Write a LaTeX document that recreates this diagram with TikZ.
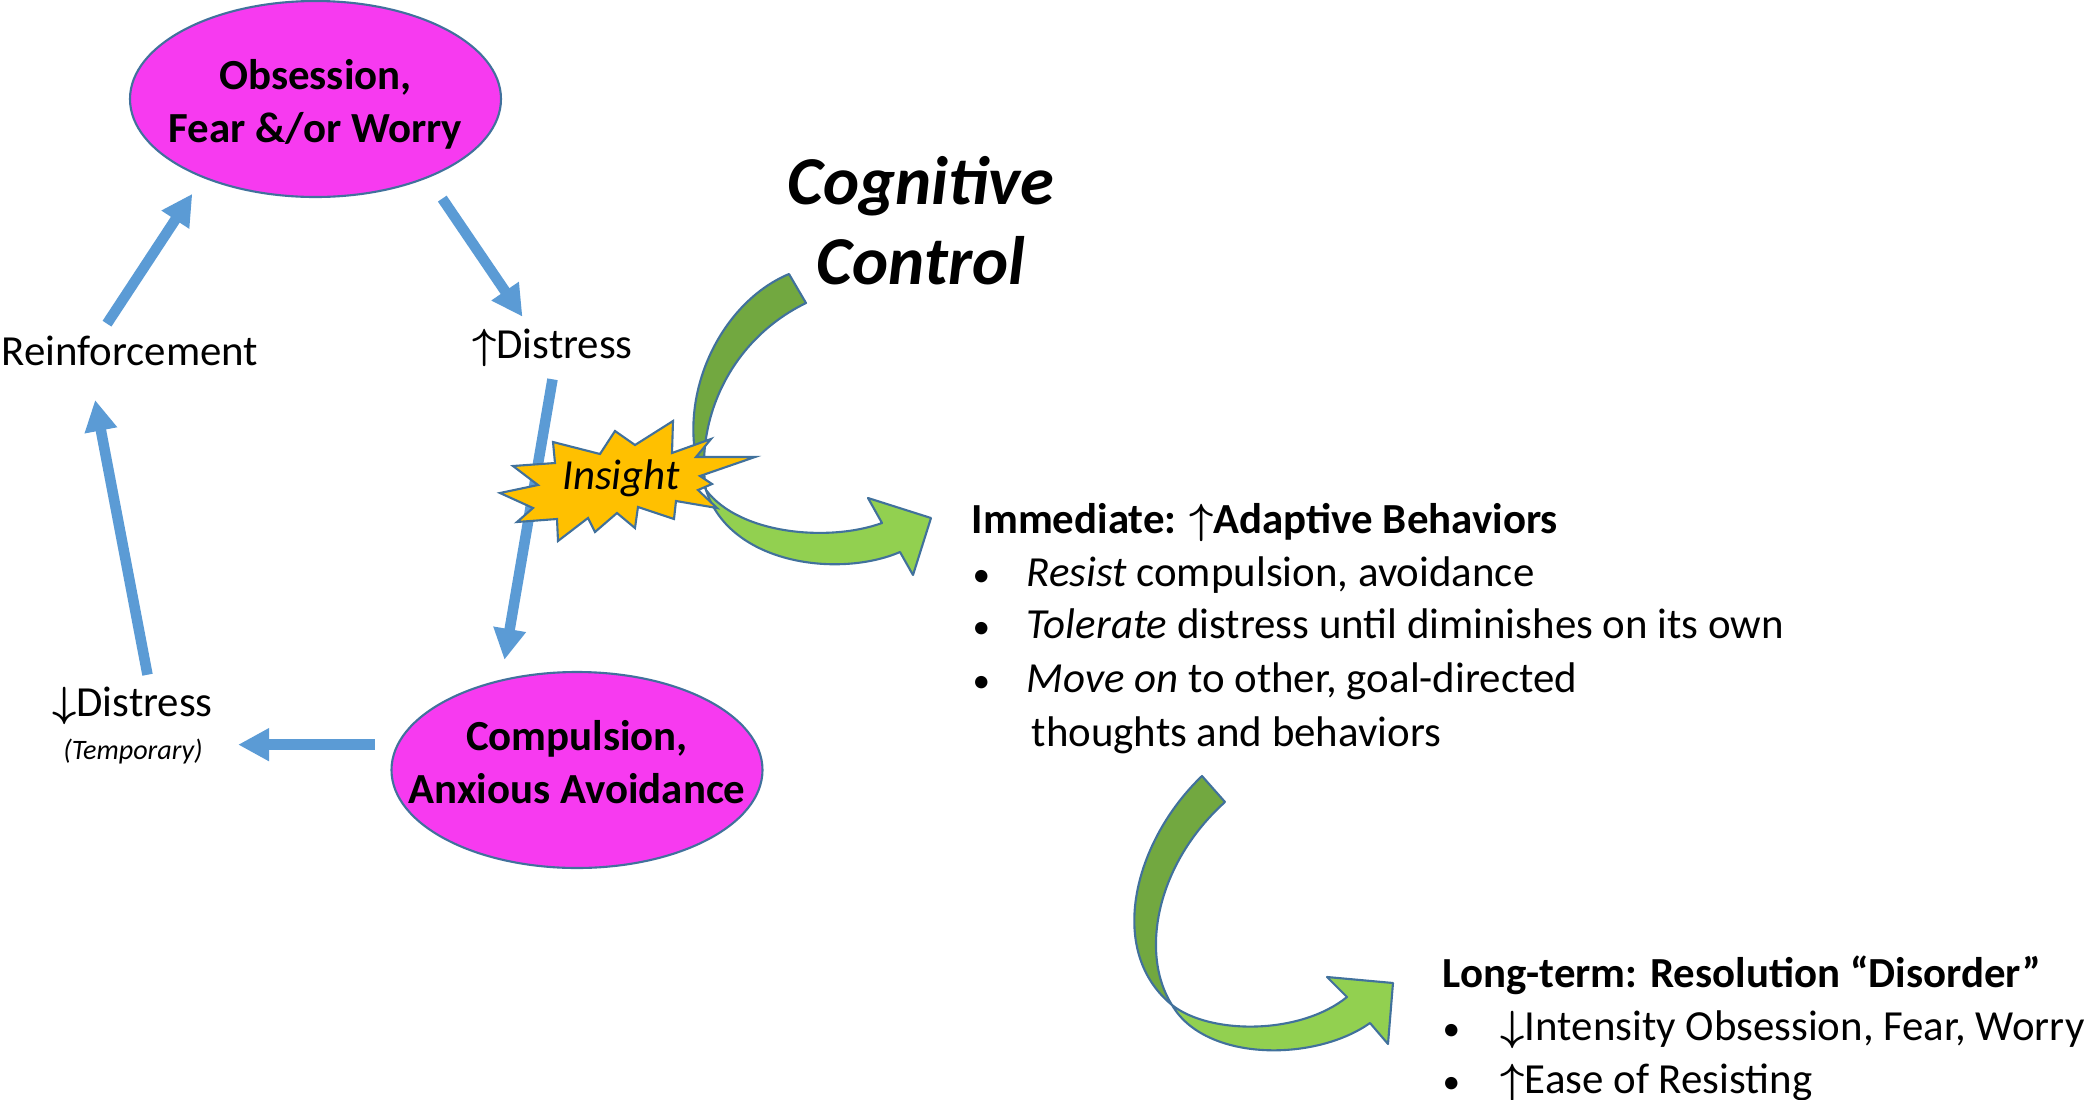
\documentclass[tikz,border=0pt]{standalone}
\usepackage{fontspec}
\setmainfont{Carlito}
\usetikzlibrary{arrows.meta,shapes.geometric,positioning}
\definecolor{ocdpink}{RGB}{247,58,240}
\definecolor{ocdline}{RGB}{65,113,156}
\definecolor{ocdblue}{RGB}{91,155,213}
\definecolor{darkleaf}{RGB}{114,168,64}
\definecolor{lightleaf}{RGB}{146,208,80}
\definecolor{burst}{RGB}{255,192,0}
\newcommand{\basefont}{\fontsize{12.2}{15}\selectfont}
\newcommand{\twolines}[3]{\makebox[0pt]{\raisebox{#1}[0pt][0pt]{\begin{tabular}{@{}c@{}}#2\\#3\end{tabular}}}}
\newcommand{\bul}{{\fontsize{10}{12}\selectfont•}}
\newcommand{\up}{{\boldmath$\uparrow$}}
\newcommand{\down}{{\boldmath$\downarrow$}}
\tikzset{every node/.style={font=\basefont}}
\tikzset{loop/.style={shape=ellipse, draw=ocdline, line width=.6pt, fill=ocdpink,
    inner sep=0pt, minimum width=3.71cm, minimum height=1.96cm, font=\basefont\bfseries}}
\tikzset{flow/.style={draw=ocdblue, line width=3pt, -{Triangle[length=3.1mm,width=3.1mm]}}}
\tikzset{band/.style={draw=ocdline, line width=.6pt, line join=round}}
\tikzset{txt/.style={inner sep=0pt, anchor=base west}}

\begin{document}
\begin{tikzpicture}[x=1cm, y=1cm]
  \useasboundingbox (0,0) rectangle (21,-10.99);
  % the loop
  \node[loop] (obs) at (3.155,-0.99) {\twolines{-0.17cm}{Obsession,}{Fear \&/or Worry}};
  \node[loop] (comp) at (5.77,-7.70) {\twolines{-0.07cm}{Compulsion,}{Anxious Avoidance}};
  \node (reinf) at (1.30,-3.51) {Reinforcement};
  \node (distU) at (5.525,-3.48) {\up Distress};
  \node (distD) at (1.325,-7.06) {\down Distress};
  \node[font=\fontsize{8}{9}\selectfont\itshape] (temp) at (1.33,-7.51) {(Temporary)};
  \draw[flow, shorten >=1.9mm] ([xshift=-2.3mm]reinf.north) -- (obs.215);
  \draw[flow, shorten <=2.5mm] (obs.325) -- ([xshift=-3mm]distU.north);
  \draw[flow, shorten >=2mm] (distU.south) -- (comp.130);
  \draw[flow, shorten <=2.2mm, shorten >=2.3mm] (comp.172) -- (comp.172 -| temp.east);
  \draw[flow, shorten >=2.2mm] ([xshift=1.5mm]distD.north) -- ([xshift=-3.9mm]reinf.south);

  % cognitive control arrows
  \filldraw[band, fill=darkleaf] (7.89,-2.74) .. controls (7.15,-3.05) and (6.70,-4.10) .. (7.06,-4.90)
    .. controls (6.95,-4.20) and (7.30,-3.40) .. (8.06,-3.03) -- cycle;
  \filldraw[band, fill=lightleaf] (7.06,-4.90) .. controls (7.30,-5.65) and (8.40,-5.78) .. (9.00,-5.52)
    -- (9.13,-5.75) -- (9.31,-5.18) -- (8.68,-4.98) -- (8.82,-5.23)
    .. controls (8.30,-5.42) and (7.40,-5.35) .. (7.06,-4.90) -- cycle;
  \filldraw[band, fill=darkleaf] (12.02,-7.76) .. controls (11.35,-8.40) and (11.05,-9.50) .. (11.72,-10.05)
    .. controls (11.40,-9.55) and (11.55,-8.65) .. (12.25,-8.02) -- cycle;
  \filldraw[band, fill=lightleaf] (11.72,-10.05) .. controls (12.05,-10.62) and (13.15,-10.62) .. (13.70,-10.23)
    -- (13.88,-10.44) -- (13.93,-9.83) -- (13.27,-9.77) -- (13.47,-9.97)
    .. controls (13.00,-10.35) and (12.10,-10.35) .. (11.72,-10.05) -- cycle;

  % insight burst
  \filldraw[band, fill=burst, line join=miter] (5.00,-4.93) -- (5.38,-4.85) -- (5.13,-4.66)
    -- (5.55,-4.63) -- (5.53,-4.42) -- (6.00,-4.54) -- (6.15,-4.31) -- (6.35,-4.45)
    -- (6.73,-4.21) -- (6.72,-4.53) -- (7.11,-4.39) -- (6.96,-4.57) -- (7.55,-4.57)
    -- (7.00,-4.76) -- (7.12,-4.84) -- (6.98,-4.90) -- (7.17,-5.08) -- (6.76,-5.01)
    -- (6.74,-5.19) -- (6.38,-5.07) -- (6.35,-5.28) -- (6.17,-5.13) -- (5.95,-5.32)
    -- (5.88,-5.18) -- (5.58,-5.41) -- (5.57,-5.19) -- (5.17,-5.22) -- (5.33,-5.08) -- cycle;
  \node[font=\basefont\itshape] (insight) at (6.21,-4.78) {Insight};
  \node[font=\fontsize{19.5}{22.7}\selectfont\bfseries\itshape, align=center] (cogctl)
    at (9.21,-2.21) {Cognitive\\Control};

  % outcomes
  \node[txt, font=\basefont\bfseries] (imm) at (9.71,-5.33)
    {Immediate: \up Adaptive Behaviors};
  \node[txt] (resist) at (9.72,-5.86) {\makebox[5.4mm][l]{\bul}\textit{Resist} compulsion, avoidance};
  \node[txt] (toler) at (9.72,-6.38) {\makebox[5.4mm][l]{\bul}\textit{Tolerate} distress until diminishes on its own};
  \node[txt] (moveon) at (9.72,-6.92) {\makebox[5.4mm][l]{\bul}\textit{Move on} to other, goal-directed};
  \node[txt] (moveon2) at (10.31,-7.46) {thoughts and behaviors};
  \node[txt, font=\basefont\bfseries] (longt) at (14.42,-9.87)
    {Long-term: Resolution “Disorder”};
  \node[txt] (intens) at (14.42,-10.40) {\makebox[5.8mm][l]{\bul}\down Intensity Obsession, Fear, Worry};
  \node[txt] (ease) at (14.42,-10.93) {\makebox[5.8mm][l]{\bul}\up Ease of Resisting};
\end{tikzpicture}
\end{document}
